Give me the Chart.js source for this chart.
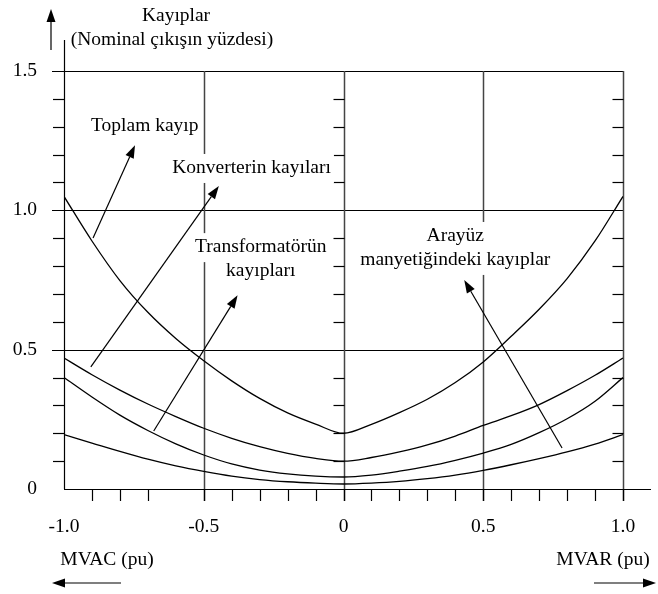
<!DOCTYPE html>
<html lang="tr">
<head>
    <meta charset="UTF-8">
    <title>Kayıplar</title>
    <script src="https://cdn.jsdelivr.net/npm/chart.js"></script>
    <style>
        html, body {
            margin: 0;
            padding: 0;
            background: #fff;
        }
        canvas {
            display: block;
        }
    </style>
</head>
<body>
    <canvas id="kayipChart" width="658" height="594"></canvas>

    <script>
        // MVAC (-) / MVAR (+), pu
        const xValues = [-1.0, -0.9, -0.8, -0.7, -0.6, -0.5, -0.4, -0.3, -0.2, -0.1, 0,
                         0.1, 0.2, 0.3, 0.4, 0.5, 0.6, 0.7, 0.8, 0.9, 1.0];

        // kayıplar (nominal çıkışın yüzdesi)
        const toplamKayip = [1.05, 0.89, 0.748, 0.634, 0.54, 0.46, 0.388, 0.325, 0.273, 0.233, 0.2,
                             0.232, 0.274, 0.322, 0.382, 0.456, 0.548, 0.645, 0.755, 0.89, 1.05];
        const konverterKayip = [0.47, 0.41, 0.355, 0.305, 0.26, 0.218, 0.182, 0.152, 0.128, 0.11, 0.1,
                                0.113, 0.133, 0.158, 0.19, 0.228, 0.263, 0.303, 0.353, 0.408, 0.47];
        const transformatorKayip = [0.4, 0.33, 0.265, 0.21, 0.162, 0.122, 0.09, 0.068, 0.054, 0.046, 0.043,
                                    0.05, 0.064, 0.081, 0.103, 0.129, 0.16, 0.202, 0.252, 0.315, 0.4];
        const arayuzKayip = [0.195, 0.165, 0.135, 0.107, 0.083, 0.063, 0.046, 0.034, 0.026, 0.021, 0.018,
                             0.021, 0.027, 0.037, 0.05, 0.067, 0.087, 0.109, 0.133, 0.161, 0.195];

        // eksenler
        const xTickLabels = ['-1.0', '-0.5', '0', '0.5', '1.0'];
        const xTickLabelValues = [-1.0, -0.5, 0, 0.5, 1.0];
        const yTickLabels = ['0', '0.5', '1.0', '1.5'];
        const yTickLabelValues = [0, 0.5, 1.0, 1.5];
        const xGridValues = [-0.5, 0, 0.5, 1.0];
        const yGridValues = [0.5, 1.0, 1.5];
        const xMinorTicks = [-0.9, -0.8, -0.7, -0.5, -0.4, -0.3, -0.2, -0.1, 0,
                             0.1, 0.2, 0.3, 0.4, 0.5, 0.6, 0.7, 0.8, 0.9, 1.0];
        const yMinorTicks = [0.1, 0.2, 0.3, 0.4, 0.6, 0.7, 0.8, 0.9, 1.1, 1.2, 1.3, 1.4];

        // açıklamalar (veri koordinatlarında)
        const notes = [
            { lines: ['Toplam kayıp'], x: -0.711, y: [1.303], from: [-0.896, 0.901], to: [-0.746, 1.234] },
            { lines: ['Konverterin kayıları'], x: -0.329, y: [1.152], from: [-0.904, 0.438], to: [-0.446, 1.087] },
            { lines: ['Transformatörün', 'kayıpları'], x: -0.296, y: [0.868, 0.782], from: [-0.679, 0.208], to: [-0.379, 0.695] },
            { lines: ['Arayüz', 'manyetiğindeki kayıplar'], x: 0.4, y: [0.908, 0.822], from: [0.782, 0.147], to: [0.432, 0.75] }
        ];

        const FONT = '19.5px "Liberation Serif", "Times New Roman", serif';

        function line(ctx, x1, y1, x2, y2) {
            ctx.beginPath();
            ctx.moveTo(x1, y1);
            ctx.lineTo(x2, y2);
            ctx.stroke();
        }

        function arrow(ctx, x1, y1, x2, y2) {
            const ang = Math.atan2(y2 - y1, x2 - x1);
            const len = 13, half = 4.5;
            const bx = x2 - Math.cos(ang) * len, by = y2 - Math.sin(ang) * len;
            line(ctx, x1, y1, bx, by);
            ctx.beginPath();
            ctx.moveTo(x2, y2);
            ctx.lineTo(bx + Math.sin(ang) * half, by - Math.cos(ang) * half);
            ctx.lineTo(bx - Math.sin(ang) * half, by + Math.cos(ang) * half);
            ctx.closePath();
            ctx.fill();
        }

        const axesPlugin = {
            id: 'axesPlugin',
            beforeDatasetsDraw(chart) {
                const { ctx, chartArea: a, scales: { x, y } } = chart;
                ctx.save();
                ctx.strokeStyle = '#000';
                ctx.lineWidth = 1.2;

                // yatay ızgara
                yGridValues.forEach(v => {
                    const py = Math.round(y.getPixelForValue(v)) + 0.5;
                    line(ctx, a.left - 12, py, a.right, py);
                });

                // dikey ızgara
                ctx.strokeStyle = '#444';
                ctx.lineWidth = 1.5;
                xGridValues.forEach(v => {
                    const px = Math.round(x.getPixelForValue(v)) + 0.5;
                    line(ctx, px, a.top, px, a.bottom + 12);
                });

                ctx.strokeStyle = '#000';
                ctx.lineWidth = 1.2;
                // sol eksen ve x ekseni
                line(ctx, a.left + 0.5, a.top - 31, a.left + 0.5, a.bottom);
                line(ctx, a.left, a.bottom + 0.5, a.right + 28, a.bottom + 0.5);

                // küçük çentikler
                xMinorTicks.forEach(v => {
                    const px = Math.round(x.getPixelForValue(v)) + 0.5;
                    line(ctx, px, a.bottom, px, a.bottom + 12);
                });
                const x0 = Math.round(x.getPixelForValue(0)) + 0.5;
                const x1 = Math.round(x.getPixelForValue(1)) + 0.5;
                yMinorTicks.forEach(v => {
                    const py = Math.round(y.getPixelForValue(v)) + 0.5;
                    line(ctx, a.left - 11, py, a.left, py);
                    line(ctx, x0 - 11, py, x0, py);
                    line(ctx, x1 - 11, py, x1, py);
                });

                // etiketler
                ctx.fillStyle = '#000';
                ctx.font = FONT;
                ctx.textBaseline = 'middle';
                ctx.textAlign = 'center';
                xTickLabels.forEach((t, i) => {
                    ctx.fillText(t, x.getPixelForValue(xTickLabelValues[i]), a.bottom + 38);
                });
                ctx.textAlign = 'right';
                yTickLabels.forEach((t, i) => {
                    ctx.fillText(t, a.left - 27, y.getPixelForValue(yTickLabelValues[i]));
                });

                ctx.textAlign = 'center';
                ctx.textBaseline = 'alphabetic';
                ctx.fillText('Kayıplar', 176, 21);
                ctx.fillText('(Nominal çıkışın yüzdesi)', 172, 45);
                ctx.textBaseline = 'middle';
                ctx.fillText('MVAC (pu)', 107, 560);
                ctx.fillText('MVAR (pu)', 603, 560);

                arrow(ctx, 51, 50, 51, 9);
                arrow(ctx, 121, 583, 52, 583);
                arrow(ctx, 594, 583, 656, 583);
                ctx.restore();
            },
            afterDatasetsDraw(chart) {
                const { ctx, scales: { x, y } } = chart;
                ctx.save();
                ctx.font = FONT;
                ctx.textAlign = 'center';
                ctx.textBaseline = 'middle';
                notes.forEach(n => {
                    const cx = x.getPixelForValue(n.x);
                    n.lines.forEach((t, i) => {
                        const cy = y.getPixelForValue(n.y[i]);
                        const w = ctx.measureText(t).width;
                        ctx.fillStyle = '#fff';
                        ctx.fillRect(cx - w / 2 - 3, cy - 14, w + 6, 29);
                        ctx.fillStyle = '#000';
                        ctx.fillText(t, cx, cy);
                    });
                });
                ctx.strokeStyle = '#000';
                ctx.fillStyle = '#000';
                ctx.lineWidth = 1.2;
                notes.forEach(n => {
                    arrow(ctx, x.getPixelForValue(n.from[0]), y.getPixelForValue(n.from[1]),
                          x.getPixelForValue(n.to[0]), y.getPixelForValue(n.to[1]));
                });
                ctx.restore();
            }
        };

        function seri(label, values) {
            return {
                label: label,
                data: xValues.map((v, i) => ({ x: v, y: values[i] })),
                borderColor: '#000',
                borderWidth: 1.3,
                pointRadius: 0,
                cubicInterpolationMode: 'monotone',
                fill: false
            };
        }

        new Chart(document.getElementById('kayipChart'), {
            type: 'line',
            data: {
                datasets: [
                    seri('Toplam kayıp', toplamKayip),
                    seri('Konverterin kayıları', konverterKayip),
                    seri('Transformatörün kayıpları', transformatorKayip),
                    seri('Arayüz manyetiğindeki kayıplar', arayuzKayip)
                ]
            },
            options: {
                responsive: false,
                animation: false,
                layout: { padding: { left: 64, right: 35, top: 71, bottom: 105 } },
                plugins: { legend: { display: false }, tooltip: { enabled: false } },
                scales: {
                    x: { type: 'linear', min: -1, max: 1, display: false },
                    y: { type: 'linear', min: 0, max: 1.5, display: false }
                }
            },
            plugins: [axesPlugin]
        });
    </script>
</body>
</html>
